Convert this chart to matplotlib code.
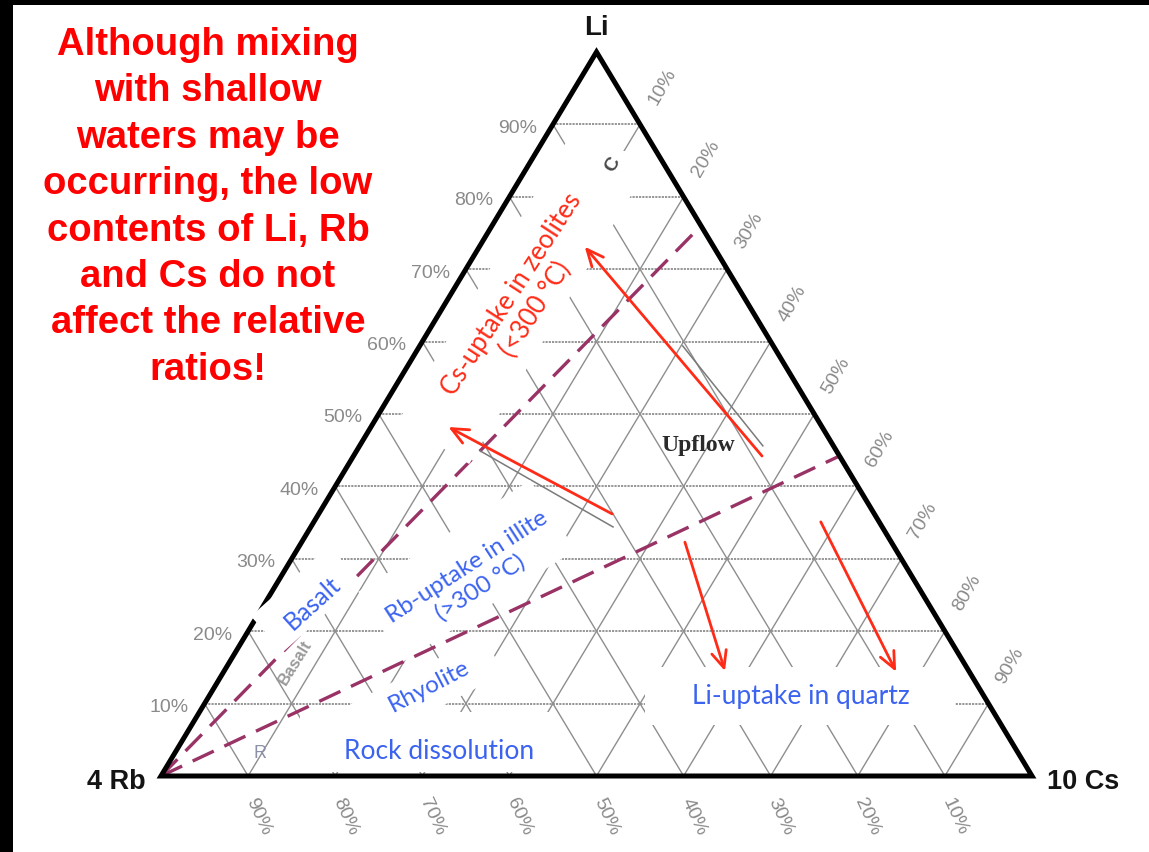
import numpy as np
import matplotlib.pyplot as plt
from matplotlib.patches import Rectangle, Polygon

# ---- data -------------------------------------------------------------
# grid levels of the ternary diagram (fractions)
levels = [0.1, 0.2, 0.3, 0.4, 0.5, 0.6, 0.7, 0.8, 0.9]
li_labels = ['10%', '20%', '30%', '40%', '50%', '60%', '70%', '80%', '90%']
cs_labels = ['10%', '20%', '30%', '40%', '50%', '60%', '70%', '80%', '90%']
rb_labels = ['90%', '80%', '70%', '60%', '50%', '40%', '30%', '20%', '10%']

# mixing lines from the Rb apex to the Li-Cs side (Li, Cs fractions at the end)
mix_li = [0.76, 0.442]
mix_cs = [0.24, 0.558]

# process arrows (tail -> head), Li and Cs fractions
arrow_tail_li = [0.442, 0.362, 0.323, 0.351]
arrow_tail_cs = [0.469, 0.337, 0.440, 0.582]
arrow_head_li = [0.731, 0.482, 0.145, 0.144]
arrow_head_cs = [0.121, 0.089, 0.575, 0.772]

# trend lines of the underlying published diagram
trend_li = [(0.594, 0.456), (0.449, 0.344)]
trend_cs = [(0.302, 0.463), (0.142, 0.347)]

note_lines = ['Although mixing', 'with shallow', 'waters may be',
              'occurring, the low', 'contents of Li, Rb', 'and Cs do not',
              'affect the relative', 'ratios!']

# ---- frame ------------------------------------------------------------
W, H = 1149, 853
RB = np.array([161.0, 76.0])
CS = np.array([1032.0, 76.0])
LI = np.array([596.5, 800.0])

GRID = '#8e8e8e'
TICK = '#8a8a8a'
BLUE = '#3b63f0'
RED = '#ff2b17'
MIX = '#993366'


def tern(li, cs):
    li = np.asarray(li, dtype=float)
    cs = np.asarray(cs, dtype=float)
    x = RB[0] + (CS[0] - RB[0]) * cs + (LI[0] - RB[0]) * li
    y = RB[1] + (LI[1] - RB[1]) * li
    return x, y


def white_box(ax, cx, cy, w, h, angle=0):
    ax.add_patch(Rectangle((cx - w / 2, cy - h / 2), w, h, angle=angle,
                           rotation_point='center', fc='white', ec='none',
                           zorder=4))


fig = plt.figure(figsize=(W / 100, H / 100), dpi=100)
ax = fig.add_axes([0, 0, 1, 1])
ax.set_xlim(0, W)
ax.set_ylim(0, H)
ax.axis('off')

# black strips along the top and left edge
ax.add_patch(Rectangle((0, H - 6), W, 6, fc='black', ec='none', zorder=10))
ax.add_patch(Rectangle((0, 0), 13, H, fc='black', ec='none', zorder=10))

# ---- grid -------------------------------------------------------------
for v in levels:
    x, y = tern([v, v], [0, 1 - v])
    ax.plot(x, y, color=GRID, lw=1.3, ls=(0, (1.2, 0.6)), zorder=1)
    x, y = tern([0, 1 - v], [v, v])
    ax.plot(x, y, color=GRID, lw=1.0, zorder=1)
    x, y = tern([0, 1 - v], [1 - v, 0])
    ax.plot(x, y, color=GRID, lw=1.0, zorder=1)

# tick labels
for v, lab in zip(levels, li_labels):
    x, y = tern(v, 0)
    ax.text(x - 16, y - 3, lab, ha='right', va='center', fontsize=14,
            color=TICK, family='Liberation Sans')
for v, lab in zip(levels, cs_labels):
    x, y = tern(1 - v, v)
    ax.text(x + 22, y + 39, lab, ha='center', va='center', fontsize=14,
            rotation=60, color=TICK, family='Liberation Sans')
for v, lab in zip(levels, rb_labels):
    x, y = tern(0, v)
    ax.text(x + 10, y - 40, lab, ha='center', va='center', fontsize=14,
            rotation=-65, color=TICK, family='Liberation Sans')

# mixing lines
for li, cs in zip(mix_li, mix_cs):
    x, y = tern([0, li], [0, cs])
    ax.plot(x, y, color=MIX, lw=2.4, dashes=(7, 3.5), zorder=2)

# trend lines of the base diagram
for li, cs in zip(trend_li, trend_cs):
    x, y = tern(li, cs)
    ax.plot(x, y, color='#7a7a7a', lw=1.1, zorder=2)

# triangle outline
ax.add_patch(Polygon([RB, CS, LI], closed=True, fill=False, ec='black',
                     lw=3.6, joinstyle='miter', zorder=3))

# small labels of the base diagram
ax.text(698, 408, 'Upflow', ha='center', va='center', fontsize=17,
        family='Liberation Serif', weight='bold', color='#2a2a2a', zorder=3)
ax.text(295, 190, 'Basalt', ha='center', va='center', fontsize=12,
        rotation=58, family='Liberation Sans', weight='bold', color='#9a9a9a',
        zorder=3)
ax.text(260, 99, 'R', ha='center', va='center', fontsize=13,
        family='Liberation Sans', color='#8c90a8', zorder=3)
white_box(ax, 613, 688, 24, 26)
ax.text(613, 688, 'C', ha='center', va='center', fontsize=14, rotation=60,
        family='Liberation Sans', weight='bold', color='#4a4a4a', zorder=5)

# ---- annotation boxes -------------------------------------------------
white_box(ax, 517.5, 548.6, 325, 83, 58.94)
white_box(ax, 306, 253, 105, 48, 42)
white_box(ax, 466.8, 281.2, 205, 83, 33)
white_box(ax, 427, 163, 150, 44, 27.5)
white_box(ax, 425, 110, 250, 60)
white_box(ax, 800, 156, 310, 58)

lato = 'Lato'
ax.text(524, 551, 'Cs-uptake in zeolites\n(<300 °C)', ha='center',
        va='center', rotation=57, fontsize=18.5, color=RED, family=lato,
        linespacing=1.2, zorder=5)
ax.text(473.5, 275.5, 'Rb-uptake in illite\n(>300 °C)', ha='center',
        va='center', rotation=33, fontsize=17.5, color=BLUE, family=lato,
        linespacing=1.15, zorder=5)
ax.text(312, 250, 'Basalt', ha='center', va='center', rotation=42,
        fontsize=18, color=BLUE, family=lato, zorder=5)
ax.text(429, 167, 'Rhyolite', ha='center', va='center', rotation=27.5,
        fontsize=17.5, color=BLUE, family=lato, zorder=5)
ax.text(439, 101, 'Rock dissolution', ha='center', va='center',
        fontsize=19, color=BLUE, family=lato, zorder=5)
ax.text(801, 156, 'Li-uptake in quartz', ha='center', va='center',
        fontsize=19, color=BLUE, family=lato, zorder=5)

# process arrows
hx, hy = tern(arrow_head_li, arrow_head_cs)
tx, ty = tern(arrow_tail_li, arrow_tail_cs)
for x0, y0, x1, y1 in zip(tx, ty, hx, hy):
    ax.annotate('', xy=(x1, y1), xytext=(x0, y0), zorder=6,
                arrowprops=dict(arrowstyle='->,head_length=1.0,head_width=0.45',
                                mutation_scale=12, color=RED, lw=2.0,
                                shrinkA=0, shrinkB=0))

# apex labels
ax.text(LI[0], 818, 'Li', ha='center', va='baseline', fontsize=20,
        weight='bold', family='Liberation Sans', color='#141414')
ax.text(146, 64, '4 Rb', ha='right', va='baseline', fontsize=19.5,
        weight='bold', family='Liberation Sans', color='#141414')
ax.text(1047, 64, '10 Cs', ha='left', va='baseline', fontsize=19.5,
        weight='bold', family='Liberation Sans', color='#141414')

# note on the left
for i, line in enumerate(note_lines):
    ax.text(208, H - 55 - 46.4 * i, line, ha='center', va='baseline',
            fontsize=27.5, weight='bold', family='Liberation Sans',
            color='#ff0000')

fig.savefig('out.png', dpi=100)
